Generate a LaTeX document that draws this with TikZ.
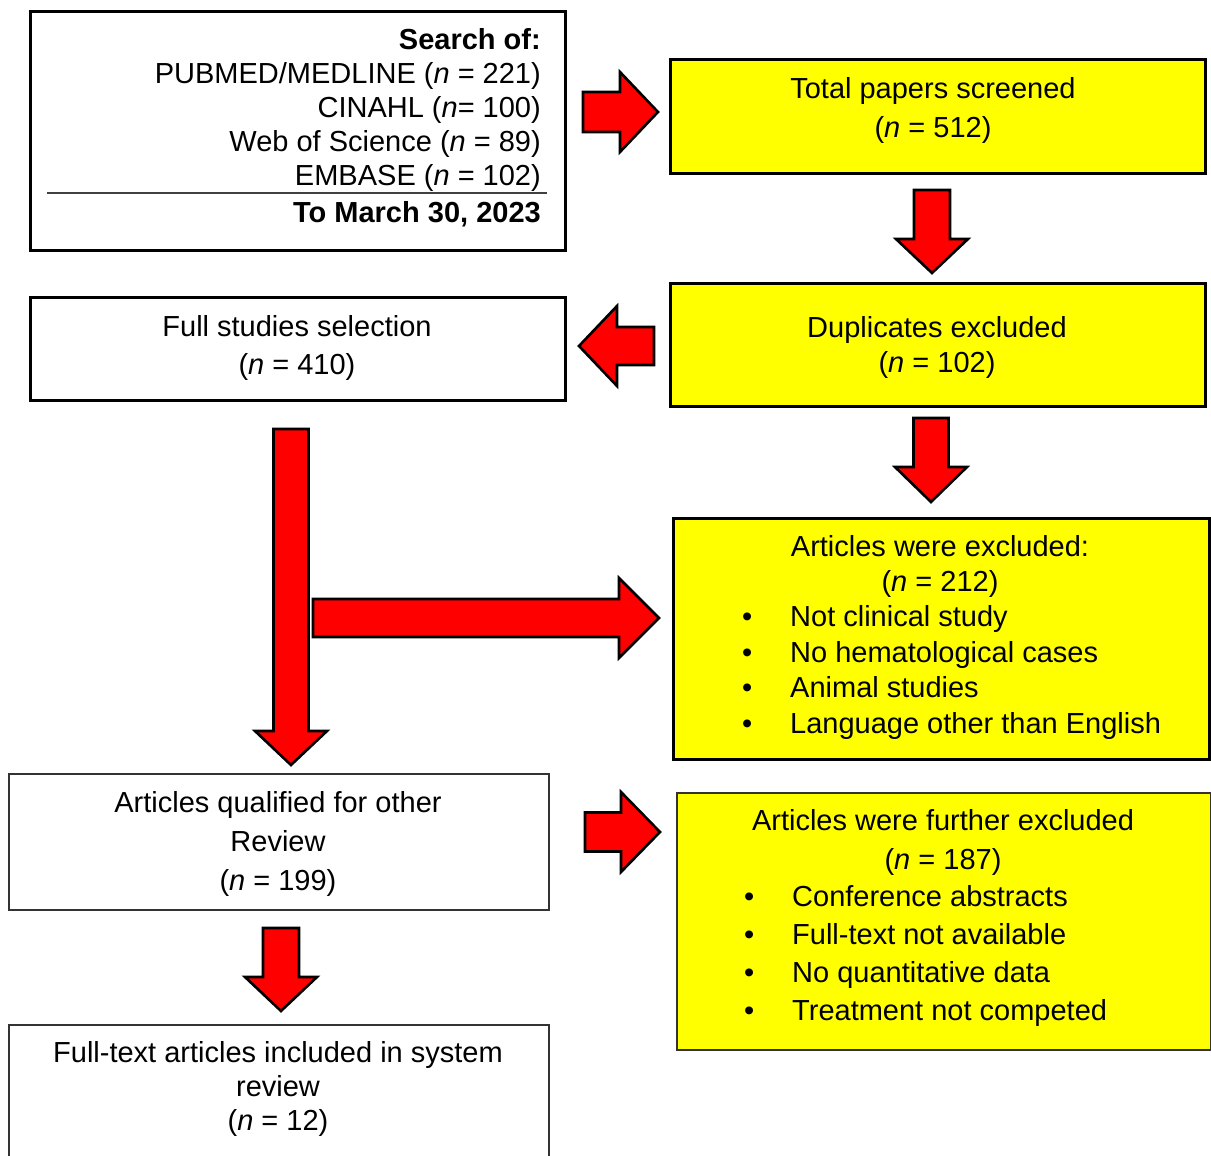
\documentclass[tikz,border=0pt]{standalone}
\usepackage{fontspec}
\setmainfont{Liberation Sans}
\usetikzlibrary{calc}
\definecolor{boxyellow}{RGB}{255,255,0}
\definecolor{arrowred}{RGB}{255,0,0}

% fat block arrow from #1 to #2: half shaft #3, half head #4, head length #5
\newcommand{\bigarrow}[5]{%
  \draw[fatarrow] let \p1=(#1), \p2=(#2),
    \n1={atan2(\y2-\y1,\x2-\x1)}, \n2={veclen(\x2-\x1,\y2-\y1)} in
    [shift={(\p1)}, rotate=\n1]
    (0,-#3) -- (\n2-#5,-#3) -- (\n2-#5,-#4) -- (\n2,0)
    -- (\n2-#5,#4) -- (\n2-#5,#3) -- (0,#3) -- cycle;}
\newcommand{\bul}{\makebox[48pt][l]{\textbullet}}

\begin{document}
\begin{tikzpicture}[x=1pt,y=1pt,
  box/.style={draw=black, line width=2.8pt, inner sep=0pt, anchor=north west},
  thinbox/.style={draw=black!80, line width=1.8pt, inner sep=0pt, anchor=north west},
  txt/.style={font=\fontsize{29}{#1}\selectfont, align=center, inner sep=0pt},
  fatarrow/.style={draw=black, fill=arrowred, line width=2.6pt}]

\useasboundingbox (0,0) rectangle (1211,-1156);

% boxes
\node[box, minimum width=535pt, minimum height=239pt] (search) at (29,-10) {};
\node[box, fill=boxyellow, minimum width=535pt, minimum height=114pt] (total) at (669,-58) {};
\node[box, fill=boxyellow, minimum width=535pt, minimum height=123pt] (dupl) at (669,-282) {};
\node[box, minimum width=535pt, minimum height=103pt] (fullsel) at (29,-296) {};
\node[box, fill=boxyellow, minimum width=536pt, minimum height=241pt] (excl) at (672,-517) {};
\node[thinbox, minimum width=540pt, minimum height=136pt] (qual) at (8,-773) {};
\node[thinbox, fill=boxyellow, minimum width=534pt, minimum height=257pt] (further) at (676,-792) {};
\node[thinbox, minimum width=540pt, minimum height=160pt] (incl) at (8,-1024) {};

% texts
\node[txt=34, align=right, anchor=east] (searchtxt) at (541,-109.5) {\textbf{Search of:}\\
  PUBMED/MEDLINE (\textit{n} = 221)\\
  CINAHL (\textit{n}= 100)\\
  Web of Science (\textit{n} = 89)\\
  EMBASE (\textit{n} = 102)};
\draw[black!75, line width=2pt] (47,-193) -- (547,-193);
\node[txt=34, anchor=east] (until) at (541,-214.5) {\textbf{To March 30, 2023}};

\node[txt=39] (totaltxt) at (933,-110.5) {Total papers screened\\(\textit{n} = 512)};
\node[txt=35] (dupltxt) at (937,-347.5) {Duplicates excluded\\(\textit{n} = 102)};
\node[txt=38] (fullseltxt) at (297,-348) {Full studies selection\\(\textit{n} = 410)};

\node[txt=35] (excltxt) at (940,-566.5) {Articles were excluded:\\(\textit{n} = 212)};
\node[txt=35.7, align=left, anchor=west] (excllist) at (742,-672.5) {\bul Not clinical study\\
  \bul No hematological cases\\
  \bul Animal studies\\
  \bul Language other than English};

\node[txt=39] (qualtxt) at (278,-844) {Articles qualified for other\\Review\\(\textit{n} = 199)};

\node[txt=39] (furthertxt) at (943,-842.5) {Articles were further excluded\\(\textit{n} = 187)};
\node[txt=38, align=left, anchor=west] (furtherlist) at (744,-956) {\bul Conference abstracts\\
  \bul Full-text not available\\
  \bul No quantitative data\\
  \bul Treatment not competed};

\node[txt=34] (incltxt) at (278,-1089) {Full-text articles included in system\\review\\(\textit{n} = 12)};

% arrow ends
\coordinate (a1s) at (583,-112);  \coordinate (a1e) at (658,-112);
\coordinate (a2s) at (932,-190);  \coordinate (a2e) at (932,-273);
\coordinate (a3s) at (654,-346);  \coordinate (a3e) at (579,-346);
\coordinate (a4s) at (931,-418);  \coordinate (a4e) at (931,-502);
\coordinate (a5s) at (291,-429);  \coordinate (a5e) at (291,-765);
\coordinate (a6s) at (313,-618);  \coordinate (a6e) at (659,-618);
\coordinate (a7s) at (585,-832);  \coordinate (a7e) at (660,-832);
\coordinate (a8s) at (281,-928);  \coordinate (a8e) at (281,-1011);

\bigarrow{a1s}{a1e}{20}{40}{38}
\bigarrow{a2s}{a2e}{18}{36}{34}
\bigarrow{a3s}{a3e}{19}{40}{38}
\bigarrow{a4s}{a4e}{17.5}{36}{35}
\bigarrow{a5s}{a5e}{17.5}{36}{34}
\bigarrow{a6s}{a6e}{19}{40}{40}
\bigarrow{a7s}{a7e}{19.5}{40}{39}
\bigarrow{a8s}{a8e}{18}{36}{34}

\end{tikzpicture}
\end{document}
